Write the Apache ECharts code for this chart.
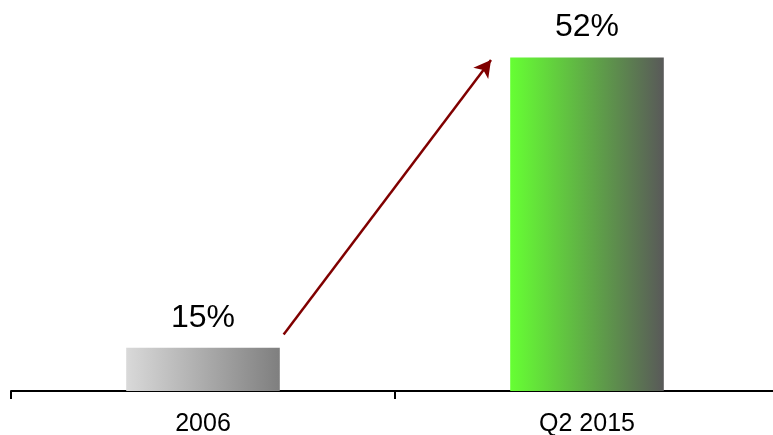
<!DOCTYPE html>
<html>
<head>
<meta charset="utf-8">
<script src="https://cdn.jsdelivr.net/npm/echarts@6/dist/echarts.min.js"></script>
<style>
  html, body { margin: 0; padding: 0; background: #fff; }
  #main { width: 773px; height: 435px; }
</style>
</head>
<body>
<div id="main"></div>
<script>
var categories = ['2006', 'Q2 2015'];
var shares = [15, 52];
// arrow drawn between the bars, in [x index, value] units
var arrowFrom = [0.21, 16.7];
var arrowTo = [0.75, 51.7];

function grad(c1, c2) {
  return new echarts.graphic.LinearGradient(0, 0, 1, 0, [
    { offset: 0, color: c1 },
    { offset: 1, color: c2 }
  ]);
}
var barColors = [grad('#d9d9d9', '#7f7f7f'), grad('#66ff33', '#595959')];

var chartDom = document.getElementById('main');
var myChart = echarts.init(chartDom);
var option = {
  animation: false,
  grid: { left: 11, top: 34, width: 768, bottom: 44, containLabel: false, outerBoundsMode: 'none' },
  xAxis: [
    {
      type: 'category',
      data: categories,
      axisLine: { lineStyle: { color: '#000', width: 2 } },
      axisTick: { show: true, length: 8, lineStyle: { color: '#000', width: 2 } },
      axisLabel: { color: '#000', fontSize: 25, fontFamily: 'Liberation Sans', margin: 21 }
    },
    { type: 'value', min: -0.5, max: 1.5, show: false }
  ],
  yAxis: {
    type: 'value',
    min: 9.5,
    max: 55,
    show: false,
    splitLine: { show: false }
  },
  series: [
    {
      type: 'bar',
      barWidth: '40%',
      data: shares.map(function (v, i) {
        return { value: v, itemStyle: { color: barColors[i] } };
      }),
      label: {
        show: true,
        position: 'top',
        distance: 14,
        formatter: '{c}%',
        color: '#000',
        fontSize: 32,
        fontFamily: 'Liberation Sans'
      }
    },
    {
      type: 'line',
      xAxisIndex: 1,
      data: [],
      markLine: {
        silent: true,
        symbol: ['none', 'arrow'],
        symbolSize: [14, 17],
        label: { show: false },
        lineStyle: { color: '#800000', width: 2.5, type: 'solid' },
        data: [[{ coord: arrowFrom }, { coord: arrowTo }]]
      }
    }
  ]
};
option && myChart.setOption(option);
</script>
</body>
</html>
